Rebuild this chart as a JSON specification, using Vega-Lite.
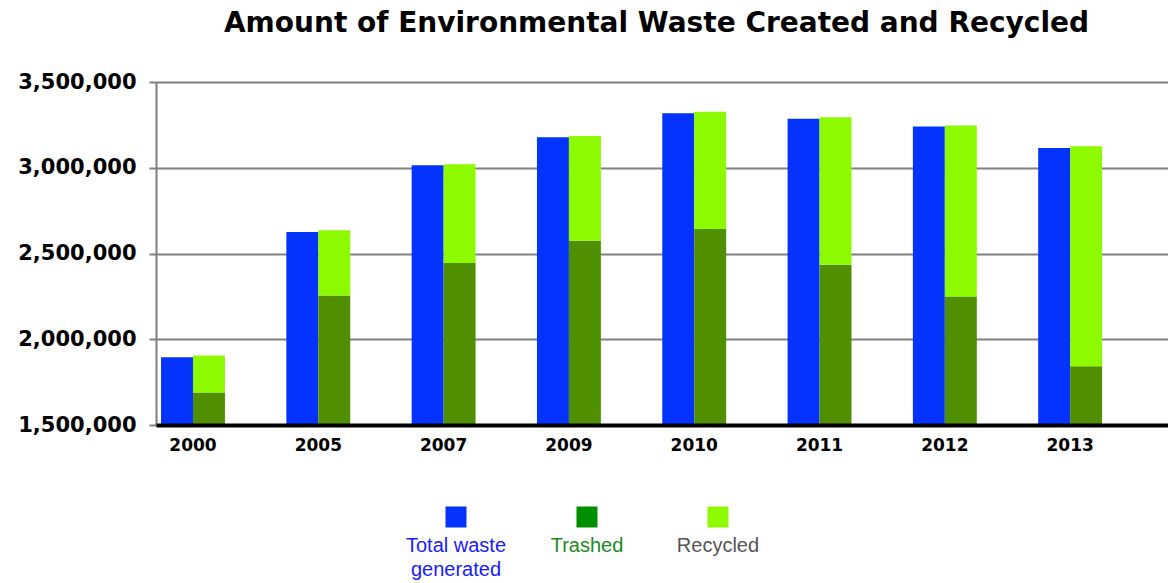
{
  "$schema": "https://vega.github.io/schema/vega-lite/v6.json",
  "background": "white",
  "padding": {"left": 17, "top": 10, "right": 0, "bottom": 0},
  "spacing": 53,
  "config": {"view": {"stroke": null}},
  "datasets": {
    "bars": [
      {"year": "2000", "col": "Total", "series": "Total waste generated", "ord": 0, "value": 1895000},
      {"year": "2000", "col": "Split", "series": "Trashed", "ord": 1, "value": 1690000},
      {"year": "2000", "col": "Split", "series": "Recycled", "ord": 2, "value": 215000},
      {"year": "2005", "col": "Total", "series": "Total waste generated", "ord": 0, "value": 2625000},
      {"year": "2005", "col": "Split", "series": "Trashed", "ord": 1, "value": 2255000},
      {"year": "2005", "col": "Split", "series": "Recycled", "ord": 2, "value": 380000},
      {"year": "2007", "col": "Total", "series": "Total waste generated", "ord": 0, "value": 3015000},
      {"year": "2007", "col": "Split", "series": "Trashed", "ord": 1, "value": 2445000},
      {"year": "2007", "col": "Split", "series": "Recycled", "ord": 2, "value": 575000},
      {"year": "2009", "col": "Total", "series": "Total waste generated", "ord": 0, "value": 3178000},
      {"year": "2009", "col": "Split", "series": "Trashed", "ord": 1, "value": 2575000},
      {"year": "2009", "col": "Split", "series": "Recycled", "ord": 2, "value": 610000},
      {"year": "2010", "col": "Total", "series": "Total waste generated", "ord": 0, "value": 3318000},
      {"year": "2010", "col": "Split", "series": "Trashed", "ord": 1, "value": 2643000},
      {"year": "2010", "col": "Split", "series": "Recycled", "ord": 2, "value": 684000},
      {"year": "2011", "col": "Total", "series": "Total waste generated", "ord": 0, "value": 3285000},
      {"year": "2011", "col": "Split", "series": "Trashed", "ord": 1, "value": 2435000},
      {"year": "2011", "col": "Split", "series": "Recycled", "ord": 2, "value": 860000},
      {"year": "2012", "col": "Total", "series": "Total waste generated", "ord": 0, "value": 3240000},
      {"year": "2012", "col": "Split", "series": "Trashed", "ord": 1, "value": 2250000},
      {"year": "2012", "col": "Split", "series": "Recycled", "ord": 2, "value": 997000},
      {"year": "2013", "col": "Total", "series": "Total waste generated", "ord": 0, "value": 3115000},
      {"year": "2013", "col": "Split", "series": "Trashed", "ord": 1, "value": 1842000},
      {"year": "2013", "col": "Split", "series": "Recycled", "ord": 2, "value": 1283000}
    ],
    "legend": [
      {"item": "Total waste generated", "label": "Total waste\ngenerated"},
      {"item": "Trashed", "label": "Trashed"},
      {"item": "Recycled", "label": "Recycled"}
    ]
  },
  "vconcat": [
    {
      "title": {"text": "Amount of Environmental Waste Created and Recycled", "font": "DejaVu Sans", "fontSize": 28, "fontWeight": "bold", "color": "black", "anchor": "middle", "frame": "group", "dx": -6, "offset": 33},
      "width": 1013,
      "height": 343,
      "data": {"name": "bars"},
      "mark": {"type": "bar", "clip": true},
      "encoding": {
        "x": {
          "field": "year", "type": "nominal", "sort": null,
          "scale": {"paddingInner": 0.49, "paddingOuter": 0.287, "align": 0.07},
          "axis": {"title": null, "labelAngle": 0, "labelFont": "DejaVu Sans", "labelFontWeight": "bold", "labelFontSize": 17, "labelColor": "black", "labelPadding": 12, "ticks": false, "domainColor": "black", "domainWidth": 4, "zindex": 2}
        },
        "xOffset": {"field": "col", "type": "nominal", "sort": ["Total", "Split"], "scale": {"paddingInner": 0, "paddingOuter": 0}},
        "y": {
          "field": "value", "type": "quantitative", "stack": "zero",
          "scale": {"domain": [1500000, 3500000], "zero": false, "nice": false},
          "axis": {"title": null, "values": [1500000, 2000000, 2500000, 3000000, 3500000], "format": ",d", "labelFont": "DejaVu Sans", "labelFontWeight": "bold", "labelFontSize": 21, "labelColor": "black", "labelPadding": 13, "tickSize": 7, "tickColor": "#808080", "tickWidth": 2, "domainColor": "#808080", "domainWidth": 2, "gridColor": "#808080", "gridWidth": 2, "gridOpacity": 1}
        },
        "color": {"field": "series", "type": "nominal", "scale": {"domain": ["Total waste generated", "Trashed", "Recycled"], "range": ["#0433FF", "#4F8F00", "#8EFA00"]}, "legend": null},
        "order": {"field": "ord", "type": "quantitative"}
      }
    },
    {
      "width": 655,
      "height": 20,
      "data": {"name": "legend"},
      "encoding": {
        "x": {"field": "item", "type": "nominal", "sort": null, "scale": {"type": "band", "paddingInner": 0, "paddingOuter": 1, "align": 0.895}, "axis": null}
      },
      "layer": [
        {
          "mark": {"type": "square", "size": 441, "filled": true, "opacity": 1},
          "encoding": {"color": {"field": "item", "type": "nominal", "scale": {"domain": ["Total waste generated", "Trashed", "Recycled"], "range": ["#0433FF", "#008F00", "#8EFA00"]}, "legend": null}}
        },
        {
          "mark": {"type": "text", "baseline": "top", "align": "center", "dy": 19, "font": "Liberation Sans", "fontSize": 20, "lineBreak": "\n", "lineHeight": 24},
          "encoding": {
            "text": {"field": "label", "type": "nominal"},
            "color": {"field": "item", "type": "nominal", "scale": {"domain": ["Total waste generated", "Trashed", "Recycled"], "range": ["#1a1aff", "#1a8c1a", "#555555"]}, "legend": null}
          }
        }
      ],
      "resolve": {"scale": {"color": "independent"}}
    }
  ]
}
